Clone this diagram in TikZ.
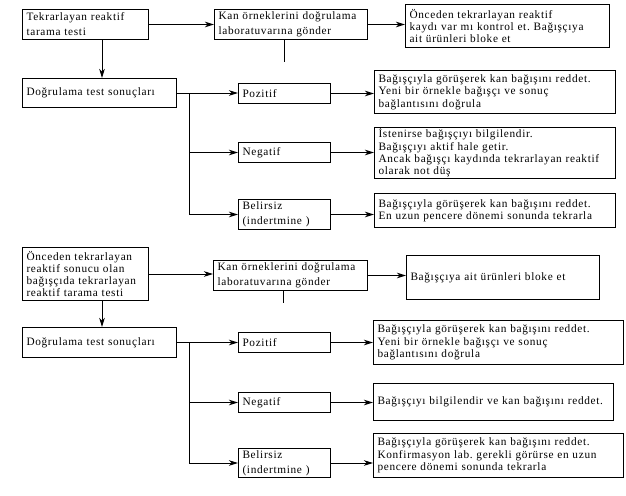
\documentclass[tikz,border=0pt]{standalone}
\usepackage{fontspec}
\setmainfont{Liberation Serif}[LetterSpace=6]
\frenchspacing
\usetikzlibrary{arrows.meta}
\tikzset{
BOX/.style ={draw=black,line width=1pt,anchor=north west,align=left,inner xsep=4pt,inner ysep=1pt},
TWOLINE/.style ={font=\fontsize{11.3}{15}\selectfont},
LINK/.style ={draw=black,line width=1pt,-{Stealth[length=9pt,width=5.5pt,inset=2.5pt]}},
LINE/.style ={draw=black,line width=1pt},
}
\begin{document}
\begin{tikzpicture}[x=1pt,y=-1pt,font=\fontsize{11.3}{12.3}\selectfont]
	\useasboundingbox (0,0) rectangle (626,495);
	%First screening
	\node[BOX,TWOLINE,text width=118pt,minimum height=30pt] (tarama) at (22,9) {Tekrarlayan reaktif\\tarama testi};
	\node[BOX,TWOLINE,text width=145pt,minimum height=30pt] (lab1) at (214,9) {Kan örneklerini doğrulama\\laboratuvarına gönder};
	\node[BOX,text width=196pt,minimum height=43pt] (kayit) at (405,4) {Önceden tekrarlayan reaktif\\kaydı var mı kontrol et. Bağışçıya\\ait ürünleri bloke et};
	\node[BOX,text width=146pt,minimum height=29pt] (dogrulama1) at (22,78) {Doğrulama test sonuçları};
	\node[BOX,text width=84pt,minimum height=20pt] (pozitif1) at (238,83) {Pozitif};
	\node[BOX,text width=84pt,minimum height=20pt] (negatif1) at (238,142) {Negatif};
	\node[BOX,TWOLINE,text width=84pt,minimum height=30pt] (belirsiz1) at (238,199) {Belirsiz\\(indertmine )};
	\node[BOX,text width=233pt,minimum height=43pt] (pres1) at (374,70) {Bağışçıyla görüşerek kan bağışını reddet.\\Yeni bir örnekle bağışçı ve sonuç\\bağlantısını doğrula};
	\node[BOX,text width=233pt,minimum height=48pt] (nres1) at (374,127) {İstenirse bağışçıyı bilgilendir.\\Bağışçıyı aktif hale getir.\\Ancak bağışçı kaydında tekrarlayan reaktif\\olarak not düş};
	\node[BOX,text width=233pt,minimum height=34pt] (bres1) at (374,193) {Bağışçıyla görüşerek kan bağışını reddet.\\En uzun pencere dönemi sonunda tekrarla};
	\coordinate (down1) at (102,0);
	\coordinate (stub1) at (284,62);
	\coordinate (trunk1) at (189,0);
	\path[LINK] (tarama.east) -- (tarama.east -| lab1.west);
	\path[LINK] (lab1.east) -- (lab1.east -| kayit.west);
	\path[LINE] (lab1.south -| stub1) -- (stub1);
	\path[LINK] (tarama.south -| down1) -- (dogrulama1.north -| down1);
	\path[LINK] (dogrulama1.east) -- (dogrulama1.east -| pozitif1.west);
	\path[LINK] (dogrulama1.east -| trunk1) |- (negatif1.west);
	\path[LINK] (dogrulama1.east -| trunk1) |- (belirsiz1.west);
	\path[LINK] (pozitif1.east) -- (pozitif1.east -| pres1.west);
	\path[LINK] (negatif1.east) -- (negatif1.east -| nres1.west);
	\path[LINK] (belirsiz1.east) -- (belirsiz1.east -| bres1.west);
	%Repeated reactive donor
	\node[BOX,text width=118pt,minimum height=53pt] (onceden) at (22,247) {Önceden tekrarlayan\\reaktif sonucu olan\\bağışçıda tekrarlayan\\reaktif tarama testi};
	\node[BOX,TWOLINE,text width=146pt,minimum height=30pt] (lab2) at (213,260) {Kan örneklerini doğrulama\\laboratuvarına gönder};
	\node[BOX,text width=185pt,minimum height=44pt] (blok) at (406,255) {Bağışçıya ait ürünleri bloke et};
	\node[BOX,text width=146pt,minimum height=30pt] (dogrulama2) at (22,327) {Doğrulama test sonuçları};
	\node[BOX,text width=84pt,minimum height=20pt] (pozitif2) at (238,332) {Pozitif};
	\node[BOX,text width=84pt,minimum height=20pt] (negatif2) at (238,392) {Negatif};
	\node[BOX,TWOLINE,text width=84pt,minimum height=29pt] (belirsiz2) at (238,448) {Belirsiz\\(indertmine )};
	\node[BOX,text width=242pt,minimum height=44pt] (pres2) at (373,320) {Bağışçıyla görüşerek kan bağışını reddet.\\Yeni bir örnekle bağışçı ve sonuç\\bağlantısını doğrula};
	\node[BOX,text width=232pt,minimum height=37pt] (nres2) at (373,383) {Bağışçıyı bilgilendir ve kan bağışını reddet.};
	\node[BOX,text width=242pt,minimum height=44pt] (bres2) at (373,433) {Bağışçıyla görüşerek kan bağışını reddet.\\Konfirmasyon lab. gerekli görürse en uzun\\pencere dönemi sonunda tekrarla};
	\coordinate (down2) at (102,0);
	\coordinate (stub2) at (283,303);
	\coordinate (trunk2) at (189,0);
	\path[LINK] (onceden.east) -- (onceden.east -| lab2.west);
	\path[LINK] (lab2.east) -- (lab2.east -| blok.west);
	\path[LINE] (lab2.south -| stub2) -- (stub2);
	\path[LINK] (onceden.south -| down2) -- (dogrulama2.north -| down2);
	\path[LINK] (dogrulama2.east) -- (dogrulama2.east -| pozitif2.west);
	\path[LINK] (dogrulama2.east -| trunk2) |- (negatif2.west);
	\path[LINK] (dogrulama2.east -| trunk2) |- (belirsiz2.west);
	\path[LINK] (pozitif2.east) -- (pozitif2.east -| pres2.west);
	\path[LINK] (negatif2.east) -- (negatif2.east -| nres2.west);
	\path[LINK] (belirsiz2.east) -- (belirsiz2.east -| bres2.west);
\end{tikzpicture}
\end{document}
